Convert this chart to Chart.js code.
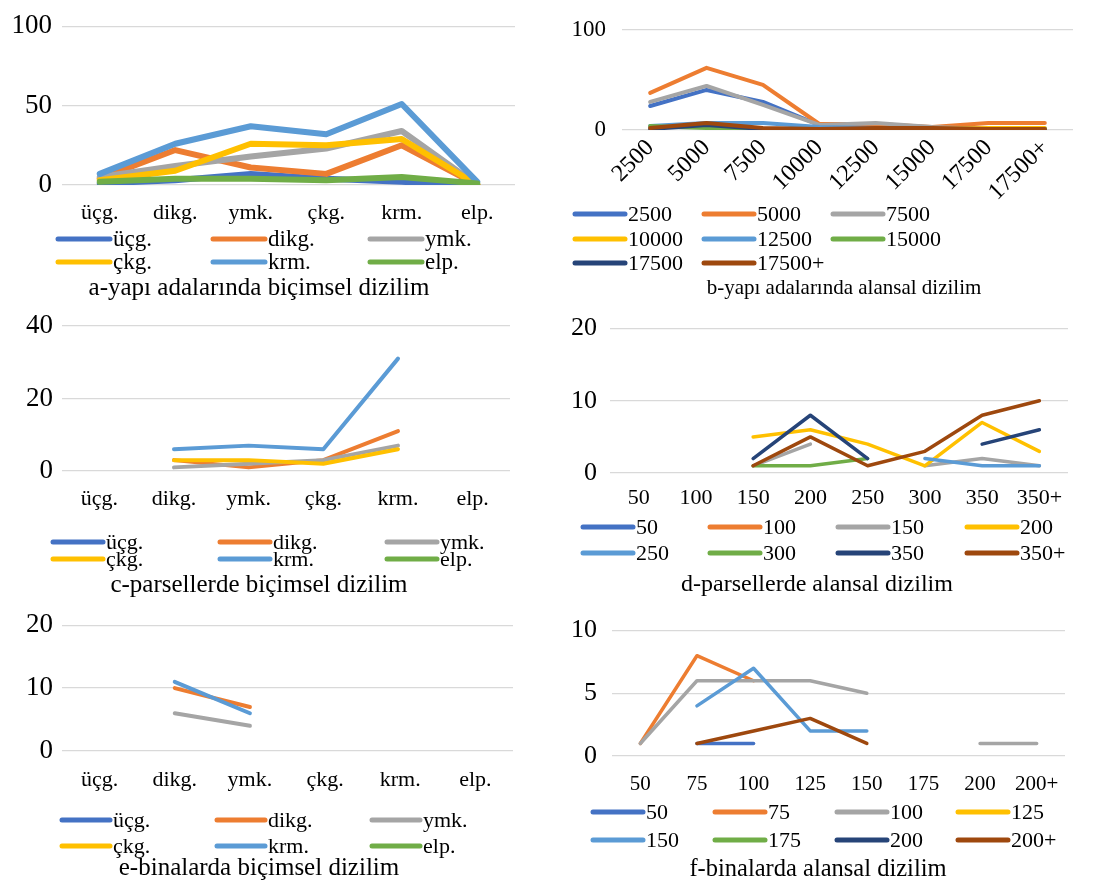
<!DOCTYPE html>
<html><head><meta charset="utf-8">
<script src="https://cdn.jsdelivr.net/npm/chart.js@4.4.0/dist/chart.umd.min.js"></script>
<style>
html,body{margin:0;padding:0;background:#fff}
body{width:1106px;height:889px;position:relative;overflow:hidden}
canvas{position:absolute}
</style></head><body>
<canvas id="ca" width="550" height="300" style="left:0;top:0"></canvas>
<canvas id="cb" width="556" height="300" style="left:550px;top:0"></canvas>
<canvas id="cc" width="550" height="300" style="left:0;top:300px"></canvas>
<canvas id="cd" width="556" height="300" style="left:550px;top:300px"></canvas>
<canvas id="ce" width="550" height="289" style="left:0;top:600px"></canvas>
<canvas id="cf" width="556" height="289" style="left:550px;top:600px"></canvas>
<script>
// ---------- categories / tick labels ----------
const shapeCats = ['üçg.','dikg.','ymk.','çkg.','krm.','elp.'];
const blockAreaCats = ['2500','5000','7500','10000','12500','15000','17500','17500+'];
const parcelAreaCats = ['50','100','150','200','250','300','350','350+'];
const buildingAreaCats = ['50','75','100','125','150','175','200','200+'];

// ---------- titles ----------
const titleA = 'a-yapı adalarında biçimsel dizilim';
const titleB = 'b-yapı adalarında alansal dizilim';
const titleC = 'c-parsellerde biçimsel dizilim';
const titleD = 'd-parsellerde alansal dizilim';
const titleE = 'e-binalarda biçimsel dizilim';
const titleF = 'f-binalarda alansal dizilim';

// ---------- values (one row per series, series order = legend order) ----------
// a: series üçg., dikg., ymk., çkg., krm., elp.
const valuesA = [
  [1, 3, 7, 4, 2, 0],
  [4, 22, 11, 7, 25, 0],
  [5, 12, 18, 23, 34, 0],
  [3, 9, 26, 25, 29, 0],
  [7, 26, 37, 32, 51, 2],
  [2, 4, 4, 3, 5, 1]
];
// b: series 2500 ... 17500+
const valuesB = [
  [24, 40, 28, 5, 5, 2, 1, 1],
  [37, 62, 45, 6, 6, 3, 7, 7],
  [28, 44, 25, 5, 7, 3, 1, 1],
  [3, 5, 1, 1, 1, 1, 2, 2],
  [4, 7, 7, 3, 2, 1, 1, 1],
  [4, 2, 1, 1, 1, 1, 1, 1],
  [1, 5, 1, 1, 1, 1, 0, 0],
  [2, 7, 2, 1, 2, 2, 1, 1]
];
// c: series üçg., dikg., ymk., çkg., krm., elp.
const valuesC = [
  [null, null, null, null, null, null],
  [null, 3, 1, 3, 11, null],
  [null, 1, 2, 3, 7, null],
  [null, 3, 3, 2, 6, null],
  [null, 6, 7, 6, 31, null],
  [null, null, null, null, null, null]
];
// d: series 50 ... 350+
const valuesD = [
  [null, null, null, null, null, null, null, null],
  [null, null, null, null, null, null, null, null],
  [null, null, 1, 4, null, 1, 2, 1],
  [null, null, 5, 6, 4, 1, 7, 3],
  [null, null, null, null, null, 2, 1, 1],
  [null, null, 1, 1, 2, null, null, null],
  [null, null, 2, 8, 2, null, 4, 6],
  [null, null, 1, 5, 1, 3, 8, 10]
];
// e: series üçg., dikg., ymk., çkg., krm., elp.
const valuesE = [
  [null, null, null, null, null, null],
  [null, 10, 7, null, null, null],
  [null, 6, 4, null, null, null],
  [null, null, null, null, null, null],
  [null, 11, 6, null, null, null],
  [null, null, null, null, null, null]
];
// f: series 50 ... 200+
const valuesF = [
  [null, 1, 1, null, null, null, null, null],
  [1, 8, 6, null, null, null, null, null],
  [1, 6, 6, 6, 5, null, 1, 1],
  [null, null, null, null, null, null, null, null],
  [null, 4, 7, 2, 2, null, null, null],
  [null, null, null, null, null, null, null, null],
  [null, null, null, null, null, null, null, null],
  [null, 1, 2, 3, 1, null, null, null]
];

const palette = ['#4472C4','#ED7D31','#A5A5A5','#FFC000','#5B9BD5','#70AD47','#264478','#9E480E'];
const FONT = '"Liberation Serif", "Times New Roman", serif';

const panelLegend = {
  id: 'panelLegend',
  afterDraw(chart, args, o) {
    const ctx = chart.ctx;
    ctx.save();
    ctx.textBaseline = 'middle';
    ctx.lineCap = 'round';
    ctx.font = o.legendFont + 'px ' + FONT;
    chart.data.datasets.forEach((ds, i) => {
      const col = i % o.colX.length, row = Math.floor(i / o.colX.length);
      const x = o.colX[col], y = o.rowY[row];
      ctx.strokeStyle = ds.borderColor;
      ctx.lineWidth = o.legendLine;
      ctx.beginPath(); ctx.moveTo(x, y); ctx.lineTo(x + o.lineLen, y); ctx.stroke();
      ctx.fillStyle = '#000';
      ctx.textAlign = 'left';
      ctx.fillText(ds.label, x + o.lineLen + 3, y + 1);
    });
    ctx.font = o.titleFont + 'px ' + FONT;
    ctx.textAlign = 'center';
    ctx.fillStyle = '#000';
    ctx.fillText(o.title, o.titleX, o.titleY);
    ctx.restore();
  }
};

function makeChart(id, cats, values, c) {
  const cv = document.getElementById(id);
  const W = cv.width, H = cv.height;
  return new Chart(cv, {
    type: 'line',
    data: {
      labels: cats,
      datasets: values.map((v, i) => ({
        label: cats[i], data: v, borderColor: palette[i], backgroundColor: palette[i],
        borderWidth: c.lw, pointRadius: 0, tension: 0, fill: false, spanGaps: false,
        borderJoinStyle: 'round', borderCapStyle: 'round', order: -i
      }))
    },
    options: {
      responsive: false, animation: false, events: [],
      layout: { padding: { left: 0, right: W - c.area.right, top: c.area.top, bottom: 0 } },
      plugins: {
        legend: { display: false }, tooltip: { enabled: false },
        panelLegend: c.legend
      },
      scales: {
        x: {
          offset: true,
          grid: { display: false, drawTicks: false },
          border: { display: false },
          ticks: { color: '#000', font: { family: FONT, size: c.xFont }, padding: c.xPad,
                   autoSkip: false, maxRotation: c.rot || 0, minRotation: c.rot || 0 },
          afterFit: s => { s.height = H - c.area.bottom; }
        },
        y: {
          min: 0, max: c.ymax,
          grid: { color: '#d9d9d9', lineWidth: 1.3, drawTicks: false },
          border: { display: false },
          ticks: { stepSize: c.step, color: '#000', font: { family: FONT, size: c.yFont }, padding: c.yPad },
          afterFit: s => { s.width = c.area.left; }
        }
      }
    },
    plugins: [panelLegend]
  });
}

makeChart('ca', shapeCats, valuesA, {
  area: { left: 62, right: 515, top: 18, bottom: 185 }, ymax: 100, step: 50, lw: 6,
  xFont: 22, xPad: 15, yFont: 27, yPad: 10,
  legend: { rowY: [239, 262], colX: [58, 213, 370], lineLen: 52, legendLine: 5, legendFont: 23,
            title: titleA, titleX: 259, titleY: 288, titleFont: 25 }
});
makeChart('cb', blockAreaCats, valuesB, {
  area: { left: 72, right: 523, top: 19, bottom: 130 }, ymax: 100, step: 100, lw: 4, rot: 45,
  xFont: 24, xPad: 4, yFont: 23, yPad: 16,
  legend: { rowY: [214, 239, 263], colX: [25, 154, 283], lineLen: 50, legendLine: 5, legendFont: 22,
            title: titleB, titleX: 294, titleY: 288, titleFont: 21 }
});
makeChart('cc', shapeCats, valuesC, {
  area: { left: 62, right: 510, top: 26, bottom: 171 }, ymax: 40, step: 20, lw: 4,
  xFont: 22, xPad: 15, yFont: 27, yPad: 9,
  legend: { rowY: [242, 259], colX: [53, 220, 387], lineLen: 50, legendLine: 5, legendFont: 22,
            title: titleC, titleX: 259, titleY: 285, titleFont: 25 }
});
makeChart('cd', parcelAreaCats, valuesD, {
  area: { left: 60, right: 518, top: 17, bottom: 173 }, ymax: 20, step: 10, lw: 3.5,
  xFont: 22, xPad: 12, yFont: 26, yPad: 13,
  legend: { rowY: [227, 253], colX: [33, 160, 288, 417], lineLen: 50, legendLine: 5, legendFont: 22,
            title: titleD, titleX: 267, titleY: 285, titleFont: 24 }
});
makeChart('ce', shapeCats, valuesE, {
  area: { left: 62, right: 513, top: 21, bottom: 151 }, ymax: 20, step: 10, lw: 4,
  xFont: 22, xPad: 16, yFont: 27, yPad: 9,
  legend: { rowY: [220, 246], colX: [62, 217, 372], lineLen: 48, legendLine: 5, legendFont: 22,
            title: titleE, titleX: 259, titleY: 268, titleFont: 25 }
});
makeChart('cf', buildingAreaCats, valuesF, {
  area: { left: 62, right: 515, top: 13, bottom: 156 }, ymax: 10, step: 5, lw: 3.5,
  xFont: 21, xPad: 16, yFont: 26, yPad: 15,
  legend: { rowY: [212, 240], colX: [43, 165, 287, 408], lineLen: 50, legendLine: 5, legendFont: 22,
            title: titleF, titleX: 268, titleY: 270, titleFont: 24.5 }
});
</script>
</body></html>
